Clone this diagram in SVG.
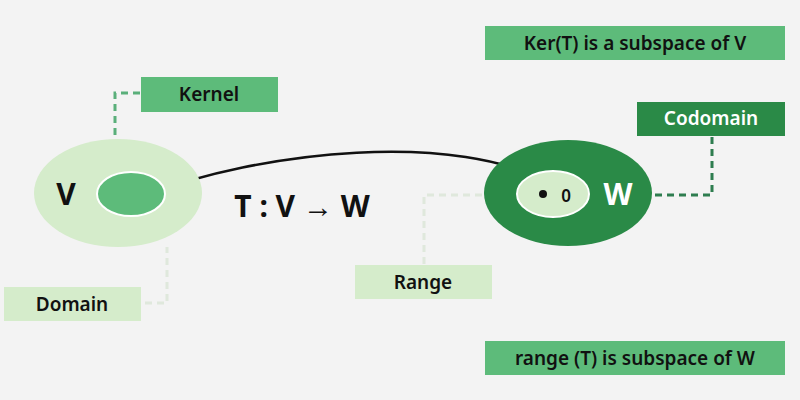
<svg xmlns="http://www.w3.org/2000/svg" width="800" height="400" viewBox="0 0 800 400">
<style>
text{font-family:"Noto Sans","Open Sans","Liberation Sans",sans-serif;font-weight:600;text-anchor:middle;dominant-baseline:central}
.lbl{font-size:19px;fill:#111}
.big{font-size:30px;font-weight:700;fill:#111}
.dash{fill:none;stroke-width:3;stroke-dasharray:7 5}
</style>
<defs><marker id="ah" markerWidth="10" markerHeight="10" refX="8" refY="5" orient="auto" markerUnits="userSpaceOnUse"><path d="M0,0 L10,5 L0,10 Z" fill="#111"/></marker></defs>
<rect width="800" height="400" fill="#f3f3f3"/>
<g id="connectors">
<path class="dash" stroke="#5aaf7a" d="M140,93 H115 V170"/>
<path class="dash" stroke="#dfe8dc" d="M145,303 H167 V247"/>
<path class="dash" stroke="#dfe8dc" d="M518,195 H424 V265"/>
<path class="dash" stroke="#2e7d4f" d="M712,137 V195 H655"/>
<path d="M141,197 C260,150 460,130 552,185" fill="none" stroke="#111" stroke-width="2.5" marker-end="url(#ah)"/>
</g>
<g id="V"><ellipse cx="118" cy="193" rx="84" ry="54" fill="#d5eccb"/><text x="66" y="193" class="big">V</text></g>
<g id="kernelset"><ellipse cx="131" cy="194" rx="34" ry="22" fill="#5dbb7a" stroke="#fff" stroke-width="2"/></g>
<g id="W"><ellipse cx="568" cy="193" rx="84" ry="53" fill="#2a8a47"/><text x="618" y="193" class="big" fill="#fff" style="fill:#fff">W</text></g>
<g id="rangeset"><ellipse cx="553" cy="194" rx="36" ry="23" fill="#d5eccb" stroke="#fff" stroke-width="2"/><circle cx="543" cy="194" r="4" fill="#111"/><text x="566" y="195" class="lbl" style="font-size:17px">0</text></g>
<g id="map"><text x="302" y="205" class="big">T : V → W</text></g>
<g id="kernel"><rect x="141" y="77" width="137" height="35" fill="#5dbb7a"/><text x="209" y="94" class="lbl">Kernel</text></g>
<g id="domain"><rect x="4" y="287" width="137" height="34" fill="#d5eccb"/><text x="72" y="304" class="lbl">Domain</text></g>
<g id="range"><rect x="355" y="265" width="137" height="34" fill="#d5eccb"/><text x="423" y="282" class="lbl">Range</text></g>
<g id="codomain"><rect x="637" y="102" width="148" height="34" fill="#2a8a47"/><text x="711" y="118" class="lbl" style="fill:#fff">Codomain</text></g>
<g id="ker-note"><rect x="485" y="26" width="300" height="34" fill="#5dbb7a"/><text x="635" y="43" class="lbl">Ker(T) is a subspace of V</text></g>
<g id="range-note"><rect x="485" y="341" width="300" height="34" fill="#5dbb7a"/><text x="635" y="358" class="lbl">range (T) is subspace of W</text></g>
</svg>
